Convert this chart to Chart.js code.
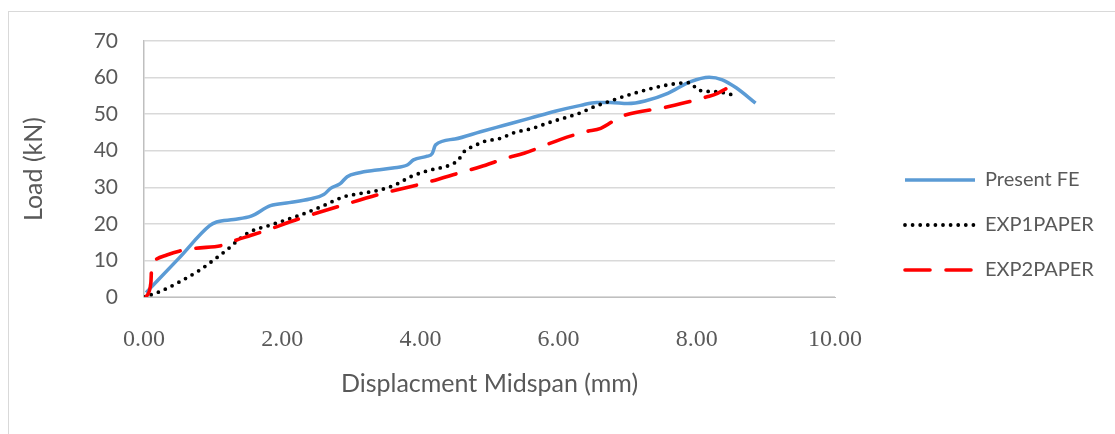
<!DOCTYPE html>
<html>
<head>
<meta charset="utf-8">
<script src="https://cdn.jsdelivr.net/npm/chart.js@4.4.1/dist/chart.umd.min.js"></script>
<style>
  html, body { margin: 0; padding: 0; background: #fff; overflow: hidden; }
  #wrap { position: relative; width: 1115px; height: 434px; }
  #frame { position: absolute; left: 8px; top: 11px; width: 1200px; height: 500px; border: 1px solid #d9d9d9; }
  #chart { position: absolute; left: 0; top: 0; }
</style>
</head>
<body>
<div id="wrap">
  <div id="frame"></div>
  <canvas id="chart" width="1115" height="434"></canvas>
</div>
<script>
// Present FE (solid blue)
const feX = [0.03, 0.5, 0.95, 1.05, 1.3, 1.55, 1.83, 2.1, 2.4, 2.6, 2.7, 2.84, 2.94, 3.1, 3.37, 3.6, 3.81, 3.9, 4.1, 4.17, 4.22, 4.5, 4.87, 5.2, 5.59, 5.95, 6.32, 6.55, 6.75, 7.0, 7.25, 7.58, 7.91, 8.18, 8.37, 8.57, 8.85];
const feY = [1.2, 10.5, 19.5, 20.5, 21.2, 22.1, 25.0, 25.8, 26.8, 28.0, 29.7, 31.0, 32.9, 33.9, 34.7, 35.3, 36.1, 37.5, 38.5, 39.2, 41.6, 43.2, 45.2, 46.9, 48.9, 50.8, 52.4, 53.2, 53.2, 52.9, 53.6, 55.7, 58.9, 60.1, 59.4, 57.2, 53.0];

// EXP1PAPER (black dots)
const exp1X = [0.0, 0.23, 0.52, 0.81, 1.0, 1.2, 1.39, 1.54, 1.8, 2.26, 2.6, 2.89, 3.1, 3.42, 3.65, 3.86, 4.1, 4.43, 4.55, 4.63, 4.8, 4.92, 5.16, 5.35, 5.6, 5.88, 6.32, 6.51, 6.72, 7.09, 7.58, 7.9, 8.02, 8.3, 8.54];
const exp1Y = [0.0, 1.5, 4.2, 7.4, 10.0, 12.9, 16.0, 17.9, 19.5, 22.4, 25.0, 27.4, 28.2, 29.3, 30.8, 32.9, 34.5, 36.1, 37.5, 39.7, 41.5, 42.5, 43.4, 44.9, 46.0, 47.8, 50.4, 52.0, 53.4, 55.7, 58.0, 58.6, 56.6, 56.1, 55.2];

// EXP2PAPER (red dashes)
const exp2X = [0.03, 0.1, 0.11, 0.16, 0.33, 0.52, 0.74, 1.15, 1.34, 1.54, 1.72, 2.26, 2.89, 3.47, 4.05, 4.63, 4.87, 5.23, 5.5, 6.03, 6.39, 6.61, 6.9, 7.58, 8.16, 8.3, 8.42];
const exp2Y = [0.0, 4.0, 8.0, 10.1, 11.5, 12.6, 13.3, 14.2, 15.6, 16.8, 17.9, 21.5, 25.2, 28.4, 31.1, 34.3, 35.6, 37.9, 39.3, 43.1, 45.2, 46.1, 49.3, 52.0, 54.8, 55.7, 56.9];

const seriesNames = ["Present FE", "EXP1PAPER", "EXP2PAPER"];
const xTicks = [0, 2, 4, 6, 8, 10];
const yTicks = [0, 10, 20, 30, 40, 50, 60, 70];

function pts(xs, ys) {
  return xs.map((x, i) => ({ x: x, y: ys[i] }));
}

const grey = "#595959";

const ctx = document.getElementById("chart").getContext("2d");
const chart = new Chart(ctx, {
  type: "line",
  data: {
    datasets: [
      {
        label: seriesNames[0],
        data: pts(feX, feY),
        borderColor: "#5b9bd5",
        borderWidth: 3.5,
        cubicInterpolationMode: "monotone",
        pointRadius: 0,
        order: 3,
      },
      {
        label: seriesNames[1],
        data: pts(exp1X, exp1Y),
        borderColor: "#000000",
        borderWidth: 3.8,
        borderDash: [0, 7.6],
        borderCapStyle: "round",
        cubicInterpolationMode: "monotone",
        pointRadius: 0,
        order: 2,
      },
      {
        label: seriesNames[2],
        data: pts(exp2X, exp2Y),
        borderColor: "#ff0000",
        borderWidth: 3.6,
        borderDash: [25, 16],
        borderCapStyle: "round",
        cubicInterpolationMode: "monotone",
        pointRadius: 0,
        order: 1,
      },
    ],
  },
  options: {
    responsive: false,
    animation: false,
    layout: { padding: { top: 41, bottom: 25, left: 0, right: 15 } },
    plugins: {
      tooltip: { enabled: false },
      legend: {
        position: "right",
        align: "center",
        labels: {
          usePointStyle: true,
          pointStyle: "line",
          pointStyleWidth: 70,
          boxWidth: 70,
          padding: 25,
          color: grey,
          font: { family: "Lato", size: 20 },
          sort: (a, b) => a.datasetIndex - b.datasetIndex,
          generateLabels: (c) =>
            Chart.defaults.plugins.legend.labels.generateLabels(c).map((item) => {
              const ds = c.data.datasets[item.datasetIndex];
              item.lineDash = ds.borderDash || [];
              item.lineWidth = ds.borderWidth;
              item.lineCap = ds.borderCapStyle || "butt";
              item.strokeStyle = ds.borderColor;
              return item;
            }),
        },
      },
    },
    scales: {
      x: {
        type: "linear",
        min: 0,
        max: 10,
        afterBuildTicks: (s) => { s.ticks = xTicks.map((v) => ({ value: v })); },
        afterFit: (s) => { s.height = 112; },
        grid: { display: false, drawTicks: false },
        border: { color: "#bfbfbf", width: 1 },
        ticks: {
          padding: 28,
          color: grey,
          font: { family: "Liberation Serif", size: 24 },
          callback: (v) => Number(v).toFixed(2),
        },
        title: {
          display: true,
          text: "Displacment Midspan (mm)",
          color: grey,
          font: { family: "Lato", size: 25 },
          padding: { top: 0, bottom: 10 },
        },
      },
      y: {
        min: 0,
        max: 70,
        afterBuildTicks: (s) => { s.ticks = yTicks.map((v) => ({ value: v })); },
        afterFit: (s) => { s.width = 144; },
        grid: { color: "#d9d9d9", lineWidth: 1.5, drawTicks: false },
        border: { color: "#bfbfbf", width: 1.5 },
        ticks: {
          padding: 26,
          color: grey,
          font: { family: "Lato", size: 21 },
        },
        title: {
          display: true,
          text: "Load (kN)",
          color: grey,
          font: { family: "Lato", size: 25 },
          padding: { top: 19, bottom: 0 },
        },
      },
      gap: {
        position: "right",
        display: true,
        afterFit: (s) => { s.width = 45; },
        grid: { display: false },
        border: { display: false },
        ticks: { display: false },
      },
    },
  },
});

// the layout caps a right-hand legend at a fraction of the width; give it the room it needs
const legendFit = chart.legend.fit;
chart.legend.fit = function () {
  legendFit.call(this);
  this.width = 1115 - 15 - 880;
};
chart.update();
</script>
</body>
</html>
